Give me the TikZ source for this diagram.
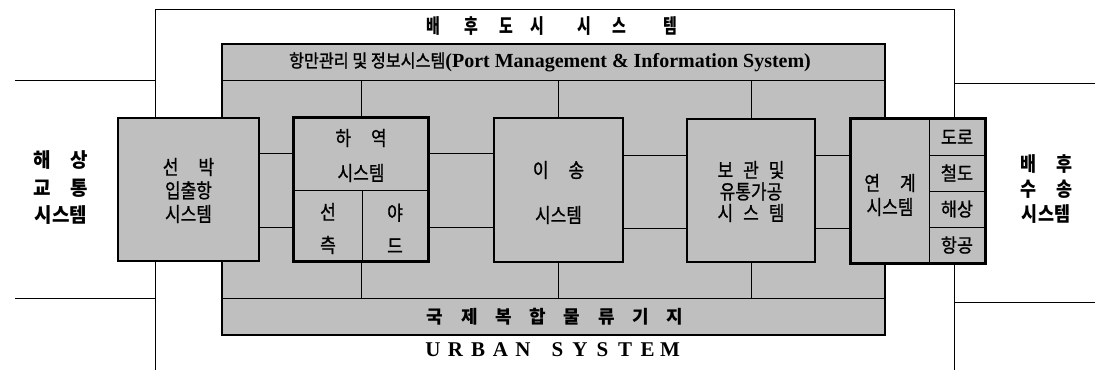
\documentclass[tikz,border=0pt]{standalone}
\usepackage{fontspec}
\setmainfont{Liberation Serif}
\newfontfamily\kr{Noto Sans CJK KR}
\newfontfamily\krbox[FakeStretch=0.85,FakeBold=1]{Noto Sans CJK KR}
\newfontfamily\krcell[FakeStretch=0.92,FakeBold=1]{Noto Sans CJK KR}
\newfontfamily\krtitle[FakeStretch=0.9,FakeBold=1.2]{Noto Sans CJK KR}
\newfontfamily\krside[FakeStretch=0.95]{Noto Sans CJK KR}
\newfontfamily\krright[FakeStretch=0.87]{Noto Sans CJK KR}
\newfontfamily\krtop[FakeStretch=0.75]{Noto Sans CJK KR}
\newfontfamily\en{Liberation Serif}
\definecolor{boxgray}{gray}{0.75}
\tikzset{
  frameline/.style={line width=1pt},
  gridline/.style={line width=0.9pt},
  mainbox/.style={draw, line width=1.8pt, fill=boxgray, inner sep=0pt},
  band/.style={inner sep=0pt},
  bigbox/.style={draw, line width=1.8pt, fill=boxgray, inner sep=0pt, align=center},
  cellbox/.style={draw, line width=1pt, inner sep=0pt, align=center, font={\krcell\fontsize{19}{22}\selectfont}},
  lbl/.style={inner sep=0pt, align=center, font={\krbox\fontsize{20}{23.5}\selectfont}},
  side/.style={inner sep=0pt, align=center, font={\krside\bfseries\fontsize{20}{27.5}\selectfont}},
  topch/.style={inner sep=0pt, font={\krtop\bfseries\fontsize{20}{22}\selectfont}},
  botch/.style={inner sep=0pt, font={\kr\bfseries\fontsize{18}{20}\selectfont}},
  urban/.style={inner sep=0pt, font={\en\bfseries\fontsize{21}{24}\selectfont}},
}
\begin{document}
\begin{tikzpicture}[x=1pt,y=-1pt]
\useasboundingbox (0,0) rectangle (1098,370);

% outer frame (urban system)
\coordinate (fbl) at (155,370);
\coordinate (ftl) at (155,9);
\coordinate (ftr) at (954,9);
\coordinate (fbr) at (954,370);
\draw[frameline] (fbl) -- (ftl) -- (ftr) -- (fbr);
\coordinate (l1) at (15,80);
\coordinate (l2) at (15,298);
\coordinate (r1) at (1095,83);
\coordinate (r2) at (1095,302);
\draw[frameline] (l1) -- (ftl |- l1);
\draw[frameline] (l2) -- (ftl |- l2);
\draw[frameline] (r1) -- (ftr |- r1);
\draw[frameline] (r2) -- (ftr |- r2);

% main grey area
\node[mainbox, minimum width=663, minimum height=291] (main) at (553.5,189.5) {};
\node[band, minimum width=663, minimum height=36] (topband) at (553.5,62) {};
\node[band, minimum width=663, minimum height=36] (botband) at (553.5,317) {};
\draw[gridline] (topband.south west) -- (topband.south east);
\draw[gridline] (botband.north west) -- (botband.north east);

% title texts
\node[inner sep=0pt] (pmis) at (550,62) {{\krtitle\fontsize{18}{20}\selectfont 항만관리 및 정보시스템}{\en\bfseries\fontsize{20}{22}\selectfont(Port Management \& Information System)}};
\foreach \x/\c [count=\i] in {433/배,471/후,506/도,537/시,584/시,619/스,670/템}
  \node[topch] (top\i) at (\x,26) {\c};
\foreach \c [count=\i] in {국,제,복,합,물,류,기,지}
  \node[botch] (bot\i) at ({435+34.3*(\i-1)},317) {\c};
\foreach \x/\c [count=\i] in {433/U,455.5/R,478/B,500.5/A,523/N,557.5/S,580/Y,602.5/S,625/T,647.5/E,670/M}
  \node[urban] (ub\i) at (\x,350) {\c};

% side labels
\node[side] (leftlbl) at (61,188) {해\hspace{1em}상\\교\hspace{1em}통\\시스템};
\node[side, font={\krright\bfseries\fontsize{20}{25}\selectfont}] (rightlbl) at (1046,189) {배\hspace{1em}후\\수\hspace{1em}송\\시스템};

% boxes
\node[bigbox, minimum width=141, minimum height=143] (sunbak) at (188.5,189.5) {};
\node[lbl] (sunbaklbl) at (188.5,190.5) {선\hspace{1em}박\\입출항\\시스템};

\node[bigbox, minimum width=134, minimum height=143] (hayeok) at (361,189.5) {};
\node[cellbox, minimum width=68, minimum height=71] (seon) at (328,225.5) {};
\node[cellbox, minimum width=66, minimum height=71] (yard) at (395,225.5) {};
\draw[line width=1.8pt] (hayeok.north west) rectangle (hayeok.south east);
\node[lbl, font={\krbox\fontsize{20}{35}\selectfont}] (hayeoklbl) at (361,155.5) {하\hspace{1em}역\\시스템};
\node[lbl, font={\krbox\fontsize{20}{33}\selectfont}] (seonlbl) at (328,228.5) {선\\측};
\node[lbl, font={\krbox\fontsize{20}{33}\selectfont}] (yardlbl) at (395,228.5) {야\\드};

\node[bigbox, minimum width=129, minimum height=144] (isong) at (558.5,190) {};
\node[lbl, font={\krbox\fontsize{20}{45}\selectfont}] (isonglbl) at (558.5,192.5) {이\hspace{1em}송\\시스템};

\node[bigbox, minimum width=128, minimum height=143] (bogwan) at (751,190.5) {};
\node[lbl, font={\krbox\fontsize{20}{21.5}\selectfont}] (bogwanlbl) at (751,191.5) {보\hspace{.5em}관\hspace{.5em}및\\유통가공\\시\hspace{.5em}스\hspace{.5em}템};

\node[bigbox, minimum width=134, minimum height=144] (yeongye) at (918,191) {};
\node[cellbox, minimum width=78, minimum height=144] (yeongyeL) at (890,191) {};
\node[cellbox, minimum width=56, minimum height=36] (road) at (957,137) {도로};
\node[cellbox, minimum width=56, minimum height=36] (rail) at (957,173) {철도};
\node[cellbox, minimum width=56, minimum height=36] (sea) at (957,209) {해상};
\node[cellbox, minimum width=56, minimum height=36] (air) at (957,245) {항공};
\draw[line width=1.8pt] (yeongye.north west) rectangle (yeongye.south east);
\node[lbl, font={\krbox\fontsize{20}{24}\selectfont}] (yeongyelbl) at (890,195) {연\hspace{1em}계\\시스템};

% grid connectors
\draw[gridline] (sunbak.east |- 0,153) -- (hayeok.west |- 0,153);
\draw[gridline] (sunbak.east |- 0,227) -- (hayeok.west |- 0,227);
\draw[gridline] (hayeok.east |- 0,153) -- (isong.west |- 0,153);
\draw[gridline] (hayeok.east |- 0,227) -- (isong.west |- 0,227);
\draw[gridline] (isong.east |- 0,155) -- (bogwan.west |- 0,155);
\draw[gridline] (isong.east |- 0,228) -- (bogwan.west |- 0,228);
\draw[gridline] (bogwan.east |- 0,155) -- (yeongye.west |- 0,155);
\draw[gridline] (bogwan.east |- 0,228) -- (yeongye.west |- 0,228);

\draw[gridline] (yard.west |- topband.south) -- (yard.west |- hayeok.north);
\draw[gridline] (yard.west |- hayeok.south) -- (yard.west |- botband.north);
\draw[gridline] (isong.north |- topband.south) -- (isong.north);
\draw[gridline] (isong.south) -- (isong.south |- botband.north);
\draw[gridline] (bogwan.north |- topband.south) -- (bogwan.north);
\draw[gridline] (bogwan.south) -- (bogwan.south |- botband.north);
\end{tikzpicture}
\end{document}
